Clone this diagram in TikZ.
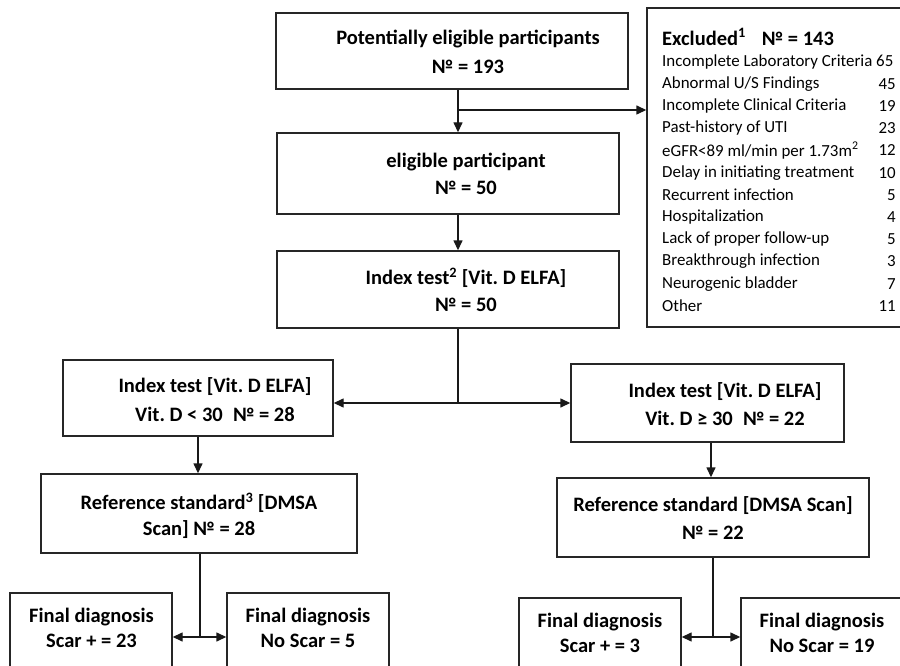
\documentclass[tikz,border=0pt]{standalone}
\usepackage{fontspec}
\setmainfont{Carlito}
\frenchspacing
\usetikzlibrary{arrows.meta}
\begin{document}
\begin{tikzpicture}[x=1pt,y=-1pt,
  box/.style={draw=black!85,line width=1.4pt,rectangle,inner sep=0pt},
  btxt/.style={font=\fontsize{20.5}{24}\selectfont\bfseries,inner sep=0pt,anchor=center},
  ltxt/.style={font=\fontsize{16.9}{20}\selectfont,inner sep=0pt},
  conn/.style={line width=1.4pt,draw=black!90},
  arr/.style={conn,-{Triangle[length=10pt,width=9pt]}},
  darr/.style={conn,{Triangle[length=10pt,width=9pt]}-{Triangle[length=10pt,width=9pt]}}]
\useasboundingbox (0,0) rectangle (900,666);
% boxes
\node[box,minimum width=352pt,minimum height=76pt] (b1) at (452,51) {};
\node[box,minimum width=342pt,minimum height=81pt] (b2) at (448,173.5) {};
\node[box,minimum width=342pt,minimum height=77pt] (b3) at (448,289.5) {};
\node[box,minimum width=270pt,minimum height=76pt] (li) at (198,398) {};
\node[box,minimum width=273pt,minimum height=78pt] (ri) at (707.5,403) {};
\node[box,minimum width=316pt,minimum height=79pt] (lr) at (199,513.5) {};
\node[box,minimum width=312pt,minimum height=79pt] (rr) at (713,517.5) {};
\node[box,minimum width=162pt,minimum height=100pt] (lf1) at (91,643) {};
\node[box,minimum width=162pt,minimum height=100pt] (lf2) at (308,643) {};
\node[box,minimum width=162pt,minimum height=100pt] (rf1) at (600,648) {};
\node[box,minimum width=170pt,minimum height=100pt] (rf2) at (826,648) {};
\node[box,minimum width=265pt,minimum height=319pt] (ex) at (779.5,167.5) {};
% texts
\node[btxt] (t1a) at (468,39) {Potentially eligible participants};
\node[btxt] (t1b) at (468,67) {№ = 193};
\node[btxt] (t2a) at (466,162) {eligible participant};
\node[btxt] (t2b) at (466,188) {№ = 50};
\node[btxt] (t3a) at (466,278) {Index test\textsuperscript{2} [Vit. D ELFA]};
\node[btxt] (t3b) at (466,305) {№ = 50};
\node[btxt] (lia) at (215,387) {Index test [Vit. D ELFA]};
\node[btxt] (lib) at (215,414) {Vit. D < 30\enspace № = 28};
\node[btxt] (ria) at (725,392) {Index test [Vit. D ELFA]};
\node[btxt] (rib) at (725,418) {Vit. D ≥ 30\enspace № = 22};
\node[btxt] (lra) at (199,503) {Reference standard\textsuperscript{3} [DMSA};
\node[btxt] (lrb) at (199,530) {Scan] № = 28};
\node[btxt] (rra) at (713,506) {Reference standard [DMSA Scan]};
\node[btxt] (rrb) at (713,533) {№ = 22};
\node[btxt] (lf1a) at (91.5,617) {Final diagnosis};
\node[btxt] (lf1b) at (91.5,641) {Scar + = 23};
\node[btxt] (lf2a) at (308,617) {Final diagnosis};
\node[btxt] (lf2b) at (308,641) {No Scar = 5};
\node[btxt] (rf1a) at (600,622) {Final diagnosis};
\node[btxt] (rf1b) at (600,646) {Scar + = 3};
\node[btxt] (rf2a) at (822,622) {Final diagnosis};
\node[btxt] (rf2b) at (822,646) {No Scar = 19};
% excluded list
\node[font=\fontsize{20.5}{24}\selectfont\bfseries,inner sep=0pt,anchor=west] (ext) at (662,37) {Excluded\textsuperscript{1}\hspace{16pt}№ = 143};
\node[ltxt,anchor=west] (ex0) at (662,61.7) {Incomplete Laboratory Criteria 65};
\foreach \lab/\num [count=\i] in {{Abnormal U/S Findings}/45,{Incomplete Clinical Criteria}/19,{Past-history of UTI}/23,{eGFR<89 ml/min per 1.73m\textsuperscript{2}}/12,{Delay in initiating treatment}/10,{Recurrent infection}/5,{Hospitalization}/4,{Lack of proper follow-up}/5,{Breakthrough infection}/3,{Neurogenic bladder}/7,{Other}/11}{
  \node[ltxt,anchor=west] (exl\i) at (662,61.7+22.2*\i) {\lab};
  \node[ltxt,anchor=east] (exn\i) at (896,61.7+22.2*\i) {\num};
}
% connectors
\draw[arr] (b1.south -| 458,0) -- (b2.north -| 458,0);
\coordinate (br) at (458,110);
\draw[arr] (br) -- (ex.west |- br);
\draw[arr] (b2.south -| 458,0) -- (b3.north -| 458,0);
\coordinate (sp) at (458,403);
\draw[conn] (b3.south -| sp) -- (sp);
\draw[darr] (li.east |- sp) -- (ri.west |- sp);
\draw[arr] (li.south -| 198,0) -- (lr.north -| 198,0);
\draw[arr] (ri.south -| 711,0) -- (rr.north -| 711,0);
\coordinate (sl) at (200,637);
\draw[conn] (lr.south -| sl) -- (sl);
\draw[darr] (lf1.east |- sl) -- (lf2.west |- sl);
\coordinate (sr) at (713,637);
\draw[conn] (rr.south -| sr) -- (sr);
\draw[darr] (rf1.east |- sr) -- (rf2.west |- sr);
\end{tikzpicture}
\end{document}
